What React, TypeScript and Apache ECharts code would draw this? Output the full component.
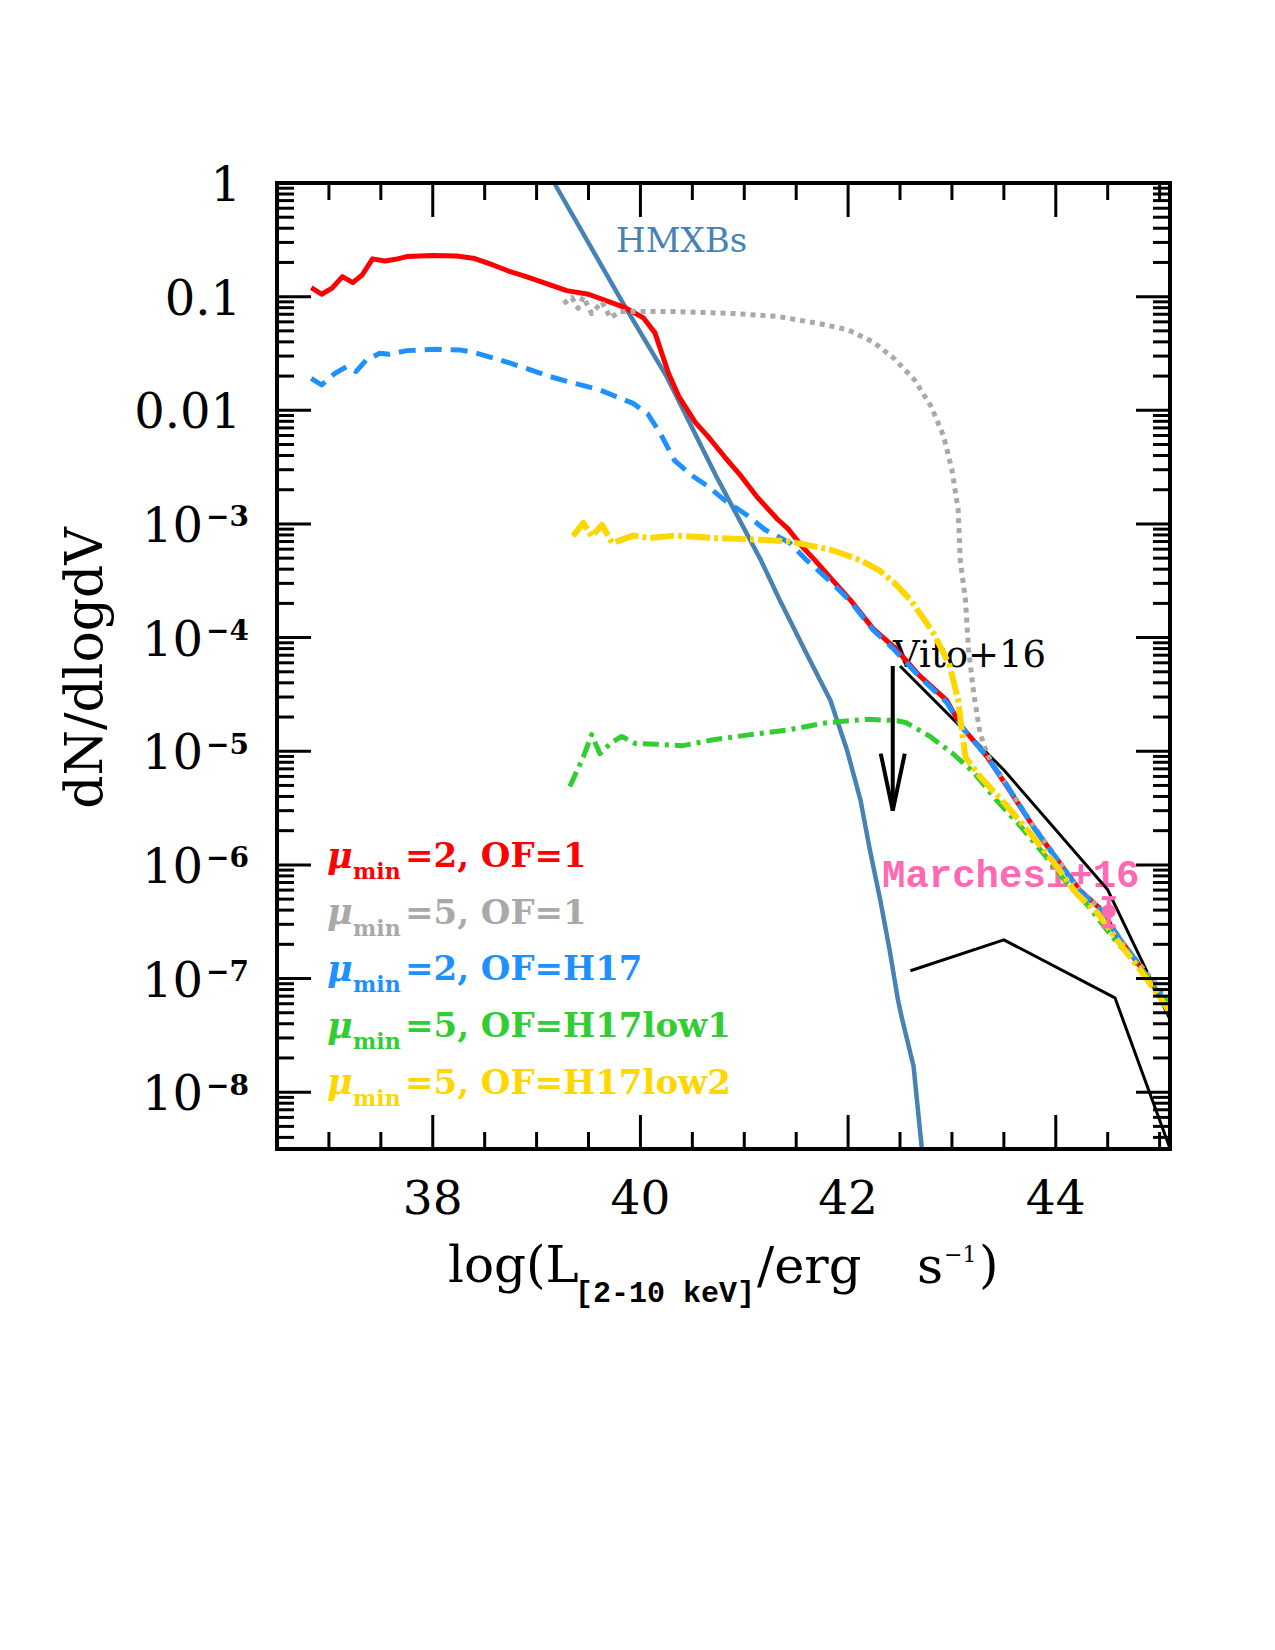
import React, { useEffect, useRef } from 'react';
import * as echarts from 'echarts';

// ---------- data (x = log L, y = dN/dlogdV) ----------
const redCurve: number[][] = [
  [36.83, 1.2e-1], [36.93, 1.05e-1], [37.03, 1.19e-1], [37.13, 1.5e-1], [37.23, 1.33e-1], [37.32, 1.55e-1],
  [37.42, 2.15e-1], [37.54, 2.06e-1], [37.64, 2.13e-1], [37.75, 2.25e-1], [38.0, 2.3e-1], [38.23, 2.28e-1],
  [38.39, 2.18e-1], [38.58, 1.9e-1], [38.73, 1.68e-1], [38.9, 1.5e-1], [39.13, 1.27e-1], [39.29, 1.13e-1],
  [39.5, 1.05e-1], [39.84, 8.1e-2], [40.03, 6.5e-2], [40.14, 4.8e-2], [40.27, 2.12e-2], [40.37, 1.32e-2],
  [40.53, 7.8e-3], [40.65, 5.9e-3], [40.81, 3.9e-3], [40.97, 2.63e-3], [41.12, 1.74e-3], [41.32, 1.1e-3],
  [41.42, 9.1e-4], [41.56, 6.3e-4], [41.68, 4.8e-4], [41.85, 3.2e-4], [42.02, 2.15e-4], [42.24, 1.2e-4],
  [42.44, 8.3e-5], [42.69, 4.6e-5], [42.95, 2.8e-5], [43.09, 1.66e-5], [43.34, 8.9e-6], [43.53, 4.9e-6],
  [43.78, 2.19e-6], [44.01, 1.12e-6], [44.23, 6.0e-7], [44.43, 4.1e-7], [44.62, 2.19e-7], [44.81, 1.29e-7],
  [45.0, 7.1e-8],
];

const grayCurve: number[][] = [
  [39.26, 8.7e-2], [39.34, 9.8e-2], [39.4, 7.9e-2], [39.45, 1.0e-1], [39.53, 7.1e-2], [39.63, 9.0e-2],
  [39.71, 6.5e-2], [39.8, 7.4e-2], [40.0, 7.4e-2], [40.32, 7.4e-2], [40.9, 7.1e-2], [41.32, 6.7e-2],
  [41.72, 5.8e-2], [42.0, 5.1e-2], [42.24, 4.0e-2], [42.44, 2.87e-2], [42.64, 1.85e-2], [42.8, 1.08e-2],
  [42.92, 5.9e-3], [43.0, 3.0e-3], [43.06, 1.33e-3], [43.08, 4.8e-4], [43.13, 2.15e-4], [43.16, 7.9e-5],
  [43.21, 3.2e-5], [43.27, 1.45e-5], [43.34, 9.3e-6], [43.53, 5.0e-6], [43.78, 2.24e-6], [44.01, 1.15e-6],
  [44.23, 6.0e-7], [44.43, 4.1e-7], [44.62, 2.24e-7], [44.81, 1.32e-7], [44.97, 8.9e-8],
];

const blueCurve: number[][] = [
  [36.83, 1.91e-2], [36.93, 1.67e-2], [37.06, 2.12e-2], [37.17, 2.42e-2], [37.26, 2.19e-2], [37.36, 2.77e-2],
  [37.49, 3.18e-2], [37.58, 3.11e-2], [37.75, 3.35e-2], [38.04, 3.44e-2], [38.26, 3.4e-2], [38.39, 3.24e-2],
  [38.65, 2.77e-2], [38.9, 2.34e-2], [39.13, 1.98e-2], [39.35, 1.74e-2], [39.61, 1.51e-2], [39.93, 1.15e-2],
  [40.07, 9.3e-3], [40.19, 6.3e-3], [40.33, 3.6e-3], [40.49, 2.69e-3], [40.65, 2.14e-3], [40.81, 1.62e-3],
  [41.04, 1.17e-3], [41.2, 8.9e-4], [41.44, 6.8e-4], [41.6, 4.8e-4], [41.85, 3.0e-4], [42.02, 2.09e-4],
  [42.24, 1.17e-4], [42.44, 7.9e-5], [42.69, 4.5e-5], [42.95, 2.69e-5], [43.09, 1.66e-5], [43.34, 8.9e-6],
  [43.53, 5.0e-6], [43.78, 2.19e-6], [44.01, 1.12e-6], [44.23, 5.9e-7], [44.43, 4.0e-7], [44.62, 2.19e-7],
  [44.81, 1.29e-7], [44.97, 7.6e-8], [45.03, 7.4e-8],
];

const greenCurve: number[][] = [
  [39.32, 4.9e-6], [39.45, 8.9e-6], [39.53, 1.4e-5], [39.61, 9.5e-6], [39.71, 1.17e-5], [39.82, 1.35e-5],
  [39.95, 1.17e-5], [40.16, 1.15e-5], [40.41, 1.12e-5], [40.7, 1.26e-5], [41.06, 1.4e-5], [41.44, 1.55e-5],
  [41.79, 1.78e-5], [42.18, 1.91e-5], [42.47, 1.86e-5], [42.56, 1.78e-5], [42.79, 1.35e-5], [43.01, 9.5e-6],
  [43.21, 6.5e-6], [43.43, 3.7e-6], [43.66, 2.19e-6], [43.88, 1.26e-6], [44.11, 6.9e-7], [44.3, 4.5e-7],
  [44.55, 2.29e-7], [44.81, 1.26e-7], [45.0, 7.2e-8], [45.08, 6.3e-8],
];

const yellowCurve: number[][] = [
  [39.35, 7.8e-4], [39.45, 1.02e-3], [39.53, 7.8e-4], [39.63, 9.8e-4], [39.73, 6.8e-4], [39.93, 7.9e-4],
  [40.09, 7.5e-4], [40.33, 7.9e-4], [40.73, 7.5e-4], [41.12, 7.3e-4], [41.44, 7.0e-4], [41.84, 5.9e-4],
  [42.12, 4.8e-4], [42.3, 3.9e-4], [42.45, 3.0e-4], [42.6, 2.15e-4], [42.72, 1.5e-4], [42.82, 1.1e-4],
  [42.91, 7.6e-5], [42.98, 5.6e-5], [43.06, 2.8e-5],
  [43.09, 1.66e-5], [43.13, 8.9e-6], [43.27, 6.0e-6], [43.53, 3.3e-6], [43.75, 1.91e-6], [43.98, 1.05e-6],
  [44.2, 5.6e-7], [44.4, 3.8e-7], [44.59, 2.19e-7], [44.81, 1.2e-7], [45.0, 6.9e-8], [45.1, 5.0e-8],
];

const hmxbCurve: number[][] = [
  [39.17, 1.0], [39.85, 8.2e-2], [40.25, 2.0e-2], [40.73, 2.63e-3], [41.16, 4.8e-4], [41.34, 2.15e-4],
  [41.6, 7.2e-5], [41.83, 2.8e-5], [41.99, 1.02e-5], [42.12, 3.7e-6], [42.21, 1.35e-6], [42.31, 4.9e-7],
  [42.4, 1.78e-7], [42.48, 6.5e-8], [42.52, 4.4e-8], [42.63, 1.7e-8], [42.71, 3.2e-9],
];

const vitoUpper: number[][] = [[42.5, 5.62e-5], [43.5, 6.84e-6], [44.5, 6.03e-7], [45.1, 4.37e-8]];
const vitoLower: number[][] = [[42.6, 1.17e-7], [43.5, 2.19e-7], [44.57, 6.76e-8], [45.1, 3.2e-9]];
const vitoArrow: number[][] = [[42.43, 5.62e-5, 3.0e-6]];
const marchesiPoint: number[][] = [[44.51, 3.9e-7, 5.1e-7, 2.88e-7]];

const xMajorTicks = [38, 40, 42, 44];
const xTickLabels = ['38', '40', '42', '44'];
const xMinorTicks = [37, 37.5, 38.5, 39, 39.5, 40.5, 41, 41.5, 42.5, 43, 43.5, 44.5, 45];
const yMajorTicks = [1, 1e-1, 1e-2, 1e-3, 1e-4, 1e-5, 1e-6, 1e-7, 1e-8];
const yTickBase = ['1', '0.1', '0.01', '10', '10', '10', '10', '10', '10'];
const yTickExp = ['', '', '', '\u22123', '\u22124', '\u22125', '\u22126', '\u22127', '\u22128'];

const legendLabels = ['=2, OF=1', '=5, OF=1', '=2, OF=H17', '=5, OF=H17low1', '=5, OF=H17low2'];
const legendColors = ['#FF0000', '#A9A9A9', '#1E90FF', '#32CD32', '#FFD700'];

const X_MIN = 36.5;
const X_MAX = 45.1;
const Y_MIN = 3.1623e-9;
const Y_MAX = 1;

const SERIF = '"DejaVu Serif", serif';
const MONO = '"Liberation Mono", monospace';

function txt(text: string, x: number, y: number, font: string, fill: string, align = 'left', extra: any = {}) {
  return {
    type: 'text',
    x,
    y,
    ...extra,
    style: { text, font, fill, align, verticalAlign: 'middle', textAlign: align, textVerticalAlign: 'middle' },
  };
}

export default function App() {
  const ref = useRef<HTMLDivElement>(null);

  useEffect(() => {
    if (!ref.current) return;
    const chart = echarts.init(ref.current, undefined, { renderer: 'svg' });

    const yMinorTicks: number[] = [];
    for (let d = -9; d <= -1; d++) {
      for (let k = 2; k <= 9; k++) {
        const v = k * Math.pow(10, d);
        if (v > Y_MIN && v < Y_MAX) yMinorTicks.push(v);
      }
    }

    const xTickData = [
      ...xMajorTicks.map((v, i) => [v, 1e-4, 1, i]),
      ...xMinorTicks.map((v) => [v, 1e-4, 0, -1]),
    ];
    const yTickData = [
      ...yMajorTicks.map((v, i) => [40, v, 1, i]),
      ...yMinorTicks.map((v) => [40, v, 0, -1]),
    ];

    const lineS = (name: string, data: number[][], color: string, width: number, type: any, z: number) => ({
      name,
      type: 'line',
      data,
      showSymbol: false,
      symbol: 'none',
      clip: true,
      z,
      lineStyle: { color, width, type, cap: 'butt', join: 'round' },
      silent: true,
    });

    const legendGraphics: any[] = [];
    legendLabels.forEach((t, i) => {
      const y = 855 + i * 56.7;
      const c = legendColors[i];
      legendGraphics.push(txt('\u03bc', 327, y, `italic bold 35px ${SERIF}`, c));
      legendGraphics.push(txt('min', 353, y + 16, `bold 22px ${SERIF}`, c));
      legendGraphics.push(txt(t, 405, y, `bold 34px ${SERIF}`, c));
    });

    const option: any = {
      animation: false,
      backgroundColor: '#ffffff',
      grid: { left: 277, top: 183, width: 893, height: 966, containLabel: false, show: false },
      xAxis: {
        type: 'value',
        min: X_MIN,
        max: X_MAX,
        axisLine: { show: false },
        axisTick: { show: false },
        axisLabel: { show: false },
        splitLine: { show: false },
      },
      yAxis: {
        type: 'log',
        logBase: 10,
        min: Y_MIN,
        max: Y_MAX,
        axisLine: { show: false },
        axisTick: { show: false },
        axisLabel: { show: false },
        splitLine: { show: false },
      },
      series: [
        lineS('Vito+16 upper', vitoUpper, '#000000', 3, 'solid', 2),
        lineS('Vito+16 lower', vitoLower, '#000000', 3, 'solid', 2),
        lineS('HMXBs', hmxbCurve, '#4682B4', 4.5, 'solid', 3),
        lineS('mu=2, OF=1', redCurve, '#FF0000', 5, 'solid', 4),
        lineS('mu=5, OF=1', grayCurve, '#A9A9A9', 5, [5, 5], 5),
        lineS('mu=2, OF=H17', blueCurve, '#1E90FF', 5, [17, 9], 6),
        lineS('mu=5, OF=H17low1', greenCurve, '#32CD32', 5, [16, 6, 4, 6], 7),
        lineS('mu=5, OF=H17low2', yellowCurve, '#FFD700', 6, [24, 4, 4, 4], 8),
        {
          name: 'Vito arrow',
          type: 'custom',
          data: vitoArrow,
          encode: { x: 0, y: 1 },
          z: 9,
          silent: true,
          renderItem: (params: any, api: any) => {
            const p1 = api.coord([api.value(0), api.value(1)]);
            const p2 = api.coord([api.value(0), api.value(2)]);
            const st = { stroke: '#000', lineWidth: 4, fill: 'none' };
            return {
              type: 'group',
              children: [
                { type: 'line', shape: { x1: p1[0], y1: p1[1], x2: p2[0], y2: p2[1] }, style: st },
                {
                  type: 'polyline',
                  shape: { points: [[p2[0] - 12, p2[1] - 57], [p2[0], p2[1]], [p2[0] + 12, p2[1] - 57]] },
                  style: st,
                },
              ],
            };
          },
        },
        {
          name: 'Marchesi+16',
          type: 'custom',
          data: marchesiPoint,
          encode: { x: 0, y: 1 },
          z: 9,
          silent: true,
          renderItem: (params: any, api: any) => {
            const c = api.coord([api.value(0), api.value(1)]);
            const hi = api.coord([api.value(0), api.value(2)]);
            const lo = api.coord([api.value(0), api.value(3)]);
            const st = { stroke: '#FF69B4', lineWidth: 4 };
            return {
              type: 'group',
              children: [
                { type: 'line', shape: { x1: hi[0], y1: hi[1], x2: lo[0], y2: lo[1] }, style: st },
                { type: 'line', shape: { x1: hi[0] - 7, y1: hi[1], x2: hi[0] + 7, y2: hi[1] }, style: st },
                { type: 'line', shape: { x1: lo[0] - 7, y1: lo[1], x2: lo[0] + 7, y2: lo[1] }, style: st },
                { type: 'circle', shape: { cx: c[0], cy: c[1], r: 7 }, style: { fill: '#FF69B4' } },
              ],
            };
          },
        },
        {
          name: 'frame',
          type: 'custom',
          data: [[40, 1e-4]],
          encode: { x: 0, y: 1 },
          z: 20,
          silent: true,
          renderItem: (params: any) => {
            const cs = params.coordSys;
            return {
              type: 'rect',
              shape: { x: cs.x, y: cs.y, width: cs.width, height: cs.height },
              style: { fill: 'none', stroke: '#000', lineWidth: 4 },
            };
          },
        },
        {
          name: 'x ticks',
          type: 'custom',
          data: xTickData,
          encode: { x: 0, y: 1 },
          z: 20,
          silent: true,
          renderItem: (params: any, api: any) => {
            const cs = params.coordSys;
            const x = api.coord([api.value(0), 1e-4])[0];
            const major = api.value(2) === 1;
            const len = major ? 34 : 17;
            const bottom = cs.y + cs.height;
            const top = cs.y;
            const st = { stroke: '#000', lineWidth: 3 };
            const children: any[] = [
              { type: 'line', shape: { x1: x, y1: bottom, x2: x, y2: bottom - len }, style: st },
              { type: 'line', shape: { x1: x, y1: top, x2: x, y2: top + len }, style: st },
            ];
            if (major) {
              children.push({
                type: 'text',
                style: {
                  text: xTickLabels[api.value(3)], x, y: 1197, fill: '#000',
                  font: `47px ${SERIF}`, align: 'center', verticalAlign: 'middle',
                },
              });
            }
            return { type: 'group', children };
          },
        },
        {
          name: 'y ticks',
          type: 'custom',
          data: yTickData,
          encode: { x: 0, y: 1 },
          z: 20,
          silent: true,
          renderItem: (params: any, api: any) => {
            const cs = params.coordSys;
            const y = api.coord([40, api.value(1)])[1];
            const major = api.value(2) === 1;
            const len = major ? 34 : 17;
            const left = cs.x;
            const right = cs.x + cs.width;
            const st = { stroke: '#000', lineWidth: 3 };
            const children: any[] = [
              { type: 'line', shape: { x1: left, y1: y, x2: left + len, y2: y }, style: st },
              { type: 'line', shape: { x1: right, y1: y, x2: right - len, y2: y }, style: st },
            ];
            if (major) {
              const i = api.value(3);
              if (yTickExp[i] === '') {
                children.push({
                  type: 'text',
                  style: { text: yTickBase[i], x: 241, y: y + 1, fill: '#000', font: `48px ${SERIF}`, align: 'right', verticalAlign: 'middle' },
                });
              } else {
                children.push({
                  type: 'text',
                  style: { text: yTickBase[i], x: 203, y: y + 1, fill: '#000', font: `48px ${SERIF}`, align: 'right', verticalAlign: 'middle' },
                });
                children.push({
                  type: 'text',
                  style: { text: yTickExp[i], x: 206, y: y - 7, fill: '#000', font: `bold 28px ${SERIF}`, align: 'left', verticalAlign: 'middle' },
                });
              }
            }
            return { type: 'group', children };
          },
        },
      ],
      graphic: [
        txt('HMXBs', 616, 240, `34px ${SERIF}`, '#4682B4'),
        txt('Vito+16', 893, 654, `37px ${SERIF}`, '#000000'),
        txt('Marchesi+16', 882, 877, `bold 39px ${MONO}`, '#FF69B4'),
        ...legendGraphics,
        txt('dN/dlogdV', 84, 668, `52px ${SERIF}`, '#000000', 'center', { rotation: Math.PI / 2 }),
        txt('log(L', 448, 1265, `50px ${SERIF}`, '#000000'),
        txt('[2-10 keV]', 575, 1294, `bold 30px ${MONO}`, '#000000'),
        txt('/erg', 757, 1265, `51px ${SERIF}`, '#000000'),
        txt('s', 917, 1265, `51px ${SERIF}`, '#000000'),
        txt('\u22121', 944, 1254, `22px ${SERIF}`, '#000000'),
        txt(')', 979, 1265, `50px ${SERIF}`, '#000000'),
      ],
    };

    chart.setOption(option);
    return () => {
      chart.dispose();
    };
  }, []);

  return (
    <div
      ref={ref}
      style={{ position: 'absolute', left: 0, top: 0, width: 1275, height: 1650, background: '#fff' }}
    />
  );
}
